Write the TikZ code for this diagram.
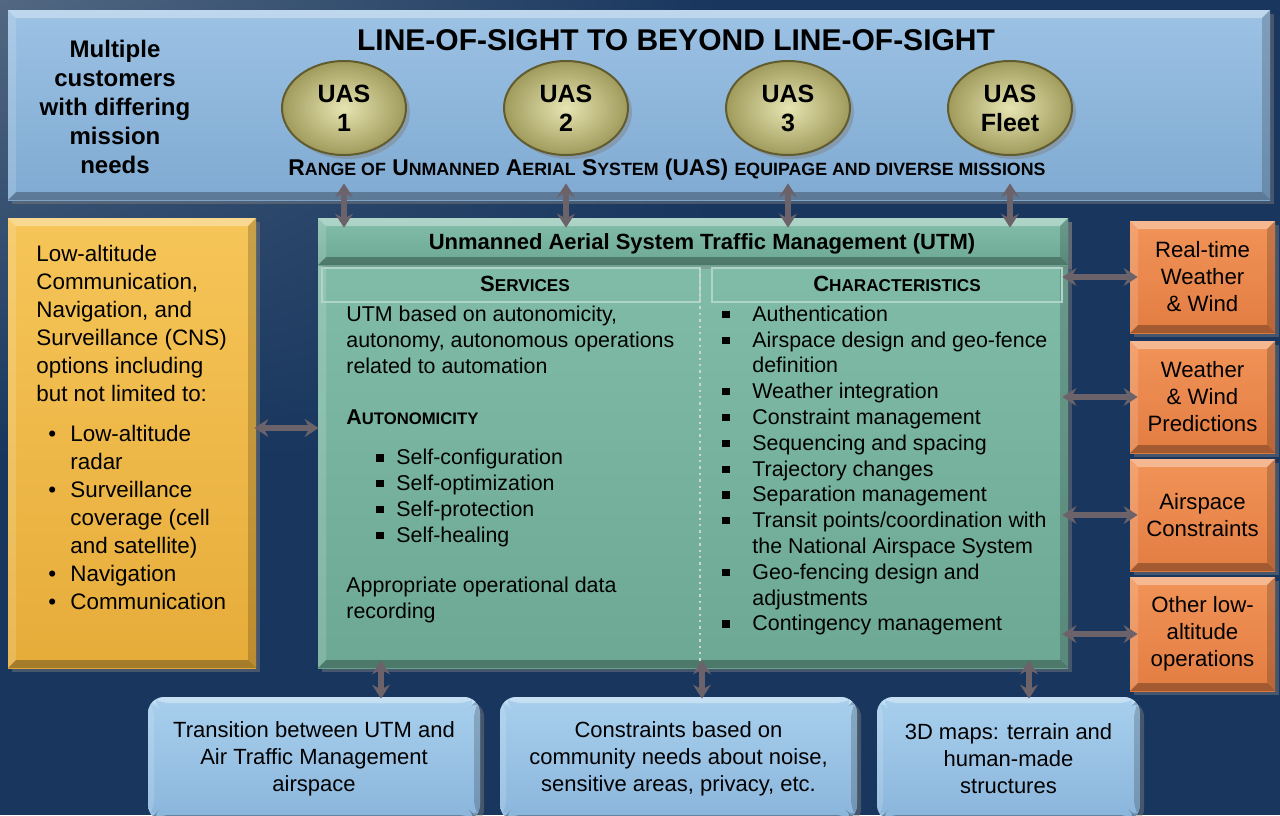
\documentclass[tikz,border=0pt]{standalone}
\usepackage{fontspec}
\setmainfont{Liberation Sans}
\usetikzlibrary{arrows.meta,shadows,shadings,calc,shapes.geometric}

\definecolor{bgnavy}{RGB}{24,54,94}
\definecolor{bgsmoke}{RGB}{82,104,130}
\definecolor{bannertop}{RGB}{156,194,228}
\definecolor{bannerbot}{RGB}{128,170,210}
\definecolor{uaslight}{RGB}{230,228,178}
\definecolor{uasdark}{RGB}{160,155,92}
\definecolor{uasline}{RGB}{96,92,48}
\definecolor{utmtop}{RGB}{130,190,170}
\definecolor{utmbot}{RGB}{108,168,148}
\definecolor{cnstop}{RGB}{246,197,88}
\definecolor{cnsbot}{RGB}{230,172,58}
\definecolor{wxtop}{RGB}{241,147,88}
\definecolor{wxbot}{RGB}{227,125,66}
\definecolor{mapstop}{RGB}{168,207,237}
\definecolor{mapsbot}{RGB}{138,181,219}
\definecolor{arrowgray}{RGB}{108,98,106}

\makeatletter
\newcommand{\sm}[1]{{\fontsize{\fpeval{0.78*\f@size}}{0}\selectfont #1}}
\makeatother
\newcommand{\sqb}{\rule[1.6pt]{3.6pt}{3.6pt}}
\newcommand{\lb}{\makebox[10pt][l]{\sqb}}
\newcommand{\rb}{\makebox[15pt][l]{\sqb}}
\newcommand{\cb}{\makebox[11pt][l]{\textbullet}}

\tikzset{
  bevel/.style={path picture={
    \coordinate (bnw) at (path picture bounding box.north west);
    \coordinate (bne) at (path picture bounding box.north east);
    \coordinate (bsw) at (path picture bounding box.south west);
    \coordinate (bse) at (path picture bounding box.south east);
    \fill[white,opacity=.35] (bnw) -- (bne) -- ([shift={(-#1,-#1)}]bne) -- ([shift={(#1,-#1)}]bnw) -- cycle;
    \fill[white,opacity=.15] (bnw) -- (bsw) -- ([shift={(#1,#1)}]bsw) -- ([shift={(#1,-#1)}]bnw) -- cycle;
    \fill[black,opacity=.28] (bsw) -- (bse) -- ([shift={(-#1,#1)}]bse) -- ([shift={(#1,#1)}]bsw) -- cycle;
    \fill[black,opacity=.18] (bne) -- (bse) -- ([shift={(-#1,#1)}]bse) -- ([shift={(-#1,-#1)}]bne) -- cycle;
  }},
  bevel/.default=4pt,
  panel/.style={inner sep=0pt, bevel, drop shadow={opacity=.45, shadow xshift=2pt, shadow yshift=-2pt}},
  bannerbox/.style={panel, top color=bannertop, bottom color=bannerbot},
  utmbox/.style={panel, top color=utmtop, bottom color=utmbot},
  cnsbox/.style={panel, top color=cnstop, bottom color=cnsbot},
  wxbox/.style={panel, top color=wxtop, bottom color=wxbot, minimum width=72.5pt, minimum height=56pt,
    align=center, font=\fontsize{11.1}{13.5}\selectfont},
  mapbox/.style={inner sep=0pt, rounded corners=8pt, bevel=3pt, top color=mapstop, bottom color=mapsbot,
    drop shadow={opacity=.45, shadow xshift=2pt, shadow yshift=-2pt},
    minimum height=62pt, align=center, font=\fontsize{11}{13.5}\selectfont},
  uas/.style={ellipse, draw=uasline, line width=1pt, inner color=uaslight, outer color=uasdark,
    minimum width=62pt, minimum height=47pt, inner sep=0pt, align=center,
    font=\bfseries\fontsize{12.5}{14.5}\selectfont,
    drop shadow={opacity=.45, shadow xshift=2pt, shadow yshift=-2pt}},
  colhead/.style={draw=white!35!utmtop, line width=.6pt, minimum height=17pt, inner sep=0pt},
  body/.style={inner sep=0pt, anchor=west, align=left, font=\fontsize{10.7}{12.9}\selectfont},
  cnstext/.style={inner sep=0pt, anchor=west, align=left, font=\fontsize{11.2}{14}\selectfont},
  biarrow/.style={draw=arrowgray, line width=2.6pt,
    {Stealth[length=7pt,width=9pt,inset=2.5pt]}-{Stealth[length=7pt,width=9pt,inset=2.5pt]}}
}

\begin{document}
\begin{tikzpicture}[x=0.5pt,y=-0.5pt]
\useasboundingbox (0,0) rectangle (1280,815);
\fill[bgnavy] (0,0) rectangle (1280,815);
\shade[upper left=bgsmoke, upper right=bgnavy, lower left=bgnavy, lower right=bgnavy] (0,0) rectangle (720,460);

\node[bannerbox, minimum width=631pt, minimum height=95pt] (banner) at (639,105) {};
\node[font=\bfseries\fontsize{15}{18}\selectfont] (los) at (676,40) {LINE-OF-SIGHT TO BEYOND LINE-OF-SIGHT};
\node[align=center, font=\bfseries\fontsize{12}{14.5}\selectfont] (customers) at (115,107)
  {Multiple\\customers\\with differing\\mission\\needs};
\node[uas] (uas1) at (344,108) {UAS\\1};
\node[uas] (uas2) at (566,108) {UAS\\2};
\node[uas] (uas3) at (788,108) {UAS\\3};
\node[uas] (fleet) at (1010,108) {UAS\\Fleet};
\node[font=\bfseries\fontsize{11.4}{13}\selectfont] (range) at (667,170)
  {R\sm{ANGE OF} U\sm{NMANNED} A\sm{ERIAL} S\sm{YSTEM} (UAS) \sm{EQUIPAGE AND DIVERSE MISSIONS}};

\node[utmbox, minimum width=375pt, minimum height=225pt] (utm) at (693,443) {};
\node[utmbox, minimum width=375pt, minimum height=23.5pt] (utmhead) at (693,241.5) {};
\node[font=\bfseries\fontsize{11}{13}\selectfont] (utmtitle) at (702,244)
  {Unmanned Aerial System Traffic Management (UTM)};
\node[colhead, minimum width=189pt] (svchead) at (511,285) {};
\node[colhead, minimum width=175pt] (charhead) at (887,285) {};
\node[font=\bfseries\fontsize{11}{13}\selectfont] (services) at (525,284) {S\sm{ERVICES}};
\node[font=\bfseries\fontsize{11}{13}\selectfont] (characteristics) at (897,284) {C\sm{HARACTERISTICS}};
\draw[dotted, line width=1.2pt, white!65!gray] (700,268) -- (700,665);

\node[body] (svcintro) at (346,340)
  {UTM based on autonomicity,\\autonomy, autonomous operations\\related to automation};
\node[body, font=\bfseries\fontsize{10.7}{12.9}\selectfont] (autohead) at (346,417) {A\sm{UTONOMICITY}};
\node[body] (autolist) at (376,498)
  {\lb Self-configuration\\\lb Self-optimization\\\lb Self-protection\\\lb Self-healing};
\node[body] (recording) at (346,600) {Appropriate operational data\\recording};

\node[body] (charlist) at (722,470.5)
  {\rb Authentication\\
   \rb Airspace design and geo-fence\\\hspace*{15pt}definition\\
   \rb Weather integration\\
   \rb Constraint management\\
   \rb Sequencing and spacing\\
   \rb Trajectory changes\\
   \rb Separation management\\
   \rb Transit points/coordination with\\\hspace*{15pt}the National Airspace System\\
   \rb Geo-fencing design and\\\hspace*{15pt}adjustments\\
   \rb Contingency management};

\node[cnsbox, minimum width=124pt, minimum height=225pt] (cns) at (132,443) {};
\node[cnstext] (cnsintro) at (36,323)
  {Low-altitude\\Communication,\\Navigation, and\\Surveillance (CNS)\\options including\\but not limited to:};
\node[cnstext] (cnslist) at (48,517)
  {\cb Low-altitude\\\hspace*{11pt}radar\\\cb Surveillance\\\hspace*{11pt}coverage (cell\\\hspace*{11pt}and satellite)\\
   \cb Navigation\\\cb Communication};

\node[wxbox] (rtwx) at (1202.5,277) {Real-time\\Weather\\\& Wind};
\node[wxbox] (wxpred) at (1202.5,397) {Weather\\\& Wind\\Predictions};
\node[wxbox] (airspace) at (1202.5,515) {Airspace\\Constraints};
\node[wxbox, minimum height=57pt] (otherops) at (1202.5,634) {Other low-\\altitude\\operations};

\node[mapbox, minimum width=166pt] (atm) at (314,759)
  {Transition between UTM and\\Air Traffic Management\\airspace};
\node[mapbox, minimum width=178.5pt] (community) at (678.5,759)
  {Constraints based on\\community needs about noise,\\sensitive areas, privacy, etc.};
\node[mapbox, minimum width=131.5pt] (maps) at (1008.5,759)
  {3D maps: terrain and\\human-made\\structures};

\foreach \u in {uas1,uas2,uas3,fleet}
  \draw[biarrow] ($(\u |- banner.south)+(0,-17)$) -- ($(\u |- utm.north)+(0,10)$);
\coordinate (cnslink) at (0,428);
\draw[biarrow] ($(cns.east |- cnslink)+(-2,0)$) -- ($(utm.west |- cnslink)+(1,0)$);
\foreach \w in {rtwx,wxpred,airspace,otherops}
  \draw[biarrow] ($(\w.west -| utm.east)+(-6,0)$) -- ($(\w.west)+(8,0)$);
\foreach \b/\x in {atm/381,community/702,maps/1029}
  \draw[biarrow] ($(\x,0 |- utm.south)+(0,-8)$) -- ($(\x,0 |- \b.north)+(0,2)$);
\end{tikzpicture}
\end{document}
